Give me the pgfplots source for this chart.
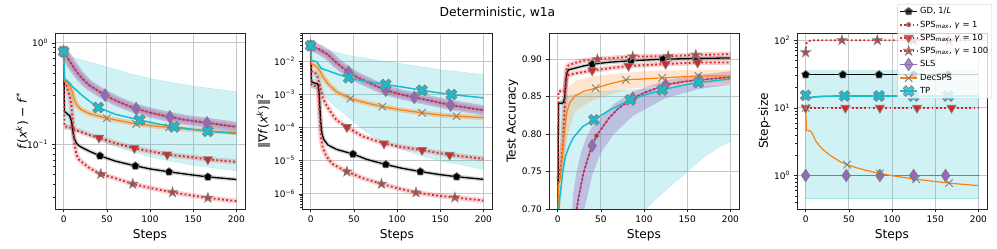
\documentclass[border=0pt]{standalone}
\usepackage{fontspec}
\setmainfont{DejaVu Sans}
\usepackage{pgfplots}
\pgfplotsset{compat=1.18}
\usepackage{pgfplotstable}
\usetikzlibrary{plotmarks}

\definecolor{tabred}{HTML}{D62728}
\definecolor{tabpurple}{HTML}{9467BD}
\definecolor{taborange}{HTML}{FF7F0E}
\definecolor{tabcyan}{HTML}{17BECF}
\definecolor{starred}{HTML}{C0403A}
\definecolor{mkedge}{HTML}{7F7F7F}

\pgfdeclareplotmark{plusfill}{%
  \pgfpathmoveto{\pgfqpoint{0.32\pgfplotmarksize}{\pgfplotmarksize}}%
  \pgfpathlineto{\pgfqpoint{-0.32\pgfplotmarksize}{\pgfplotmarksize}}%
  \pgfpathlineto{\pgfqpoint{-0.32\pgfplotmarksize}{0.32\pgfplotmarksize}}%
  \pgfpathlineto{\pgfqpoint{-\pgfplotmarksize}{0.32\pgfplotmarksize}}%
  \pgfpathlineto{\pgfqpoint{-\pgfplotmarksize}{-0.32\pgfplotmarksize}}%
  \pgfpathlineto{\pgfqpoint{-0.32\pgfplotmarksize}{-0.32\pgfplotmarksize}}%
  \pgfpathlineto{\pgfqpoint{-0.32\pgfplotmarksize}{-\pgfplotmarksize}}%
  \pgfpathlineto{\pgfqpoint{0.32\pgfplotmarksize}{-\pgfplotmarksize}}%
  \pgfpathlineto{\pgfqpoint{0.32\pgfplotmarksize}{-0.32\pgfplotmarksize}}%
  \pgfpathlineto{\pgfqpoint{\pgfplotmarksize}{-0.32\pgfplotmarksize}}%
  \pgfpathlineto{\pgfqpoint{\pgfplotmarksize}{0.32\pgfplotmarksize}}%
  \pgfpathlineto{\pgfqpoint{0.32\pgfplotmarksize}{0.32\pgfplotmarksize}}%
  \pgfpathclose
  \pgfusepathqfillstroke
}
\pgfdeclareplotmark{star5}{%
  \pgfpathmoveto{\pgfqpoint{0pt}{\pgfplotmarksize}}%
  \pgfpathlineto{\pgfqpoint{-0.2245\pgfplotmarksize}{0.309\pgfplotmarksize}}%
  \pgfpathlineto{\pgfqpoint{-0.9511\pgfplotmarksize}{0.309\pgfplotmarksize}}%
  \pgfpathlineto{\pgfqpoint{-0.3633\pgfplotmarksize}{-0.118\pgfplotmarksize}}%
  \pgfpathlineto{\pgfqpoint{-0.5878\pgfplotmarksize}{-0.809\pgfplotmarksize}}%
  \pgfpathlineto{\pgfqpoint{0pt}{-0.382\pgfplotmarksize}}%
  \pgfpathlineto{\pgfqpoint{0.5878\pgfplotmarksize}{-0.809\pgfplotmarksize}}%
  \pgfpathlineto{\pgfqpoint{0.3633\pgfplotmarksize}{-0.118\pgfplotmarksize}}%
  \pgfpathlineto{\pgfqpoint{0.9511\pgfplotmarksize}{0.309\pgfplotmarksize}}%
  \pgfpathlineto{\pgfqpoint{0.2245\pgfplotmarksize}{0.309\pgfplotmarksize}}%
  \pgfpathclose
  \pgfusepathqfillstroke
}
\pgfdeclareplotmark{thindiamond}{%
  \pgfpathmoveto{\pgfqpoint{0pt}{\pgfplotmarksize}}%
  \pgfpathlineto{\pgfqpoint{0.68\pgfplotmarksize}{0pt}}%
  \pgfpathlineto{\pgfqpoint{0pt}{-\pgfplotmarksize}}%
  \pgfpathlineto{\pgfqpoint{-0.68\pgfplotmarksize}{0pt}}%
  \pgfpathclose
  \pgfusepathqfillstroke
}

\pgfplotsset{
  base/.style={
    scale only axis, width=190pt, height=176pt, anchor=south west,
    xmin=-10, xmax=210,
    xtick={0,50,100,150,200}, xticklabels={0,50,100,150,200},
    tick align=outside, tick pos=left,
    major tick length=3.5pt, minor tick length=2pt,
    grid=major, major grid style={black!22, line width=0.8pt},
    axis line style={black!85, line width=0.6pt},
    tick style={black!85, line width=0.6pt},
    tick label style={font=\fontsize{9}{10}\selectfont},
    label style={font=\fontsize{12.2}{13}\selectfont},
    xlabel={Steps}, ylabel shift=-3pt,
  },
  lGD/.style={black, line width=1.3pt},
  lS/.style={tabred, line width=1.8pt, dash pattern=on 1.8pt off 2.4pt},
  lSLS/.style={tabpurple, line width=1.3pt},
  lDEC/.style={taborange, line width=1.2pt},
  lTP/.style={tabcyan, line width=1.5pt},
  bGD/.style={gray, opacity=0.35, line width=4pt, line join=round, forget plot},
  bS/.style={tabred, opacity=0.22, line width=5pt, line join=round, forget plot},
  bSLS/.style={tabpurple, opacity=0.4, line width=10pt, line join=round, forget plot},
  bDEC/.style={taborange, opacity=0.3, line width=5pt, line join=round, forget plot},
  mGD/.style={only marks, mark=pentagon*, mark size=4.1pt, mark options={solid, fill=black, draw=mkedge, line width=0.7pt}},
  mSa/.style={only marks, mark=*, mark size=2.2pt, mark options={solid, fill=tabred, draw=mkedge, line width=0.6pt}},
  mSb/.style={only marks, mark=triangle*, mark size=5.2pt, mark options={solid, rotate=180, fill=tabred, draw=mkedge, line width=0.7pt}},
  mSc/.style={only marks, mark=star5, mark size=5.2pt, mark options={solid, fill=starred, draw=mkedge, line width=0.7pt}},
  mSLS/.style={only marks, mark=thindiamond, mark size=6.3pt, mark options={solid, fill=tabpurple, draw=mkedge, line width=0.7pt}},
  mDEC/.style={only marks, mark=x, mark size=5.3pt, mark options={solid, draw=mkedge, line width=0.9pt}},
  mTP/.style={only marks, mark=plusfill, mark size=5.8pt, mark options={solid, rotate=45, fill=tabcyan, draw=mkedge, line width=0.7pt}},
}

% ---------------- panel A: f(x^k)-f* ----------------
\pgfplotstableread{
x y
0 0.82
1 0.21
4 0.2
7 0.19
9 0.17
10 0.15
11 0.128
12 0.116
13 0.11
15 0.102
18 0.096
23 0.091
30 0.085
42 0.0767
60 0.068
83 0.061
100 0.057
122 0.0533
150 0.0495
167 0.0475
200 0.0448
}\AGD
\pgfplotstableread{
x y
0 0.82
1 0.15
5 0.148
9 0.145
12 0.14
20 0.132
30 0.123
40 0.116
60 0.102
83 0.0906
100 0.085
120 0.079
150 0.074
167 0.0707
200 0.0669
}\ASb
\pgfplotstableread{
x y
0 0.82
1 0.43
4 0.36
7 0.3
9 0.24
10 0.19
11 0.15
12 0.115
13 0.095
15 0.078
18 0.07
23 0.0645
30 0.058
43 0.0507
60 0.046
80 0.0405
100 0.037
127 0.0333
150 0.031
167 0.0295
200 0.0274
}\ASc
\pgfplotstableread{
x y
0 0.82
5 0.7
10 0.6
15 0.52
20 0.46
25 0.415
30 0.38
40 0.335
48 0.305
60 0.27
70 0.248
83 0.225
100 0.205
122 0.186
140 0.174
167 0.162
200 0.148
}\ASLS
\pgfplotstableread{
x y
0 0.82
1 0.42
4 0.41
7 0.38
10 0.33
12 0.28
15 0.245
20 0.22
30 0.2
48 0.182
65 0.17
85 0.158
105 0.151
125 0.145
150 0.139
167 0.135
200 0.13
}\ADEC
\pgfplotstableread{
x y
0 0.82
1 0.435
4 0.42
7 0.4
10 0.37
15 0.34
20 0.31
30 0.265
41 0.228
60 0.197
88 0.173
110 0.158
128 0.148
150 0.14
167 0.134
200 0.127
}\ATP

% ---------------- panel B: grad norm ----------------
\pgfplotstableread{
x y
0 0.0297
1 0.0024
5 0.0022
8 0.0021
9 0.0018
10 0.0009
11 0.0003
12 0.00012
13 7e-5
15 4.5e-5
20 3e-5
30 2.2e-5
49 1.6e-5
65 1.1e-5
87 7.7e-6
105 6e-6
127 4.7e-6
150 3.8e-6
169 3.3e-6
200 2.75e-6
}\BGD
\pgfplotstableread{
x y
0 0.0297
1 0.005
5 0.0046
8 0.0035
10 0.0022
12 0.0013
14 0.0008
17 0.00055
20 0.0004
25 0.00025
30 0.00017
42 0.000103
60 5.5e-5
85 3.3e-5
105 2.6e-5
129 2.1e-5
161 1.5e-5
200 1.15e-5
}\BSb
\pgfplotstableread{
x y
0 0.0297
1 0.0019
5 0.0018
8 0.0017
9 0.0012
10 0.0004
11 0.00012
12 5e-5
14 2.5e-5
18 1.4e-5
25 8e-6
42 4.7e-6
60 3e-6
82 2e-6
100 1.5e-6
122 1.1e-6
145 9e-7
167 7.8e-7
200 6.3e-7
}\BSc
\pgfplotstableread{
x y
0 0.0297
5 0.026
10 0.023
15 0.019
20 0.016
25 0.012
30 0.009
40 0.0056
44 0.0047
55 0.0032
70 0.0021
87 0.00134
105 0.001
120 0.00082
145 0.0006
162 0.00048
200 0.000334
}\BSLS
\pgfplotstableread{
x y
0 0.0297
1 0.0082
5 0.0075
8 0.0065
11 0.005
14 0.0035
18 0.0025
21 0.002
30 0.0012
46 0.00075
65 0.00055
83 0.00043
105 0.00034
129 0.00028
150 0.00024
169 0.00022
200 0.0002
}\BDEC
\pgfplotstableread{
x y
0 0.0297
1 0.0105
7 0.0098
10 0.0075
12 0.0062
16 0.0056
20 0.0052
30 0.0042
44 0.0032
60 0.0026
87 0.002
105 0.0017
129 0.00134
145 0.00115
163 0.001
200 0.00079
}\BTP

% ---------------- panel C: test accuracy ----------------
\pgfplotstableread{
x y
0 0.6
1 0.8413
5 0.8413
7 0.843
8 0.848
9 0.862
10 0.876
11 0.883
13 0.886
20 0.888
30 0.891
40 0.8933
60 0.896
85 0.898
122 0.9
160 0.901
200 0.9017
}\CGD
\pgfplotstableread{
x y
0 0.6
1 0.857
8 0.858
9 0.862
10 0.872
11 0.877
13 0.879
20 0.881
40 0.8849
60 0.888
82 0.891
125 0.8937
162 0.8955
200 0.8957
}\CSb
\pgfplotstableread{
x y
0 0.6
1 0.74
4 0.76
6 0.785
8 0.83
9 0.865
10 0.884
11 0.89
13 0.892
20 0.895
30 0.898
46 0.9
87 0.9035
128 0.904
160 0.9057
200 0.9067
}\CSc
\pgfplotstableread{
x y
0 0.5
10 0.55
17 0.64
22 0.7
25 0.72
30 0.748
35 0.768
40 0.7844
45 0.7977
50 0.806
60 0.822
70 0.834
87 0.848
100 0.855
125 0.8657
145 0.87
164 0.8724
200 0.876
}\CSLS
\pgfplotstableread{
x y
0 0.6
1 0.732
3 0.74
5 0.765
7 0.795
9 0.815
11 0.83
14 0.842
20 0.851
30 0.857
44 0.8613
60 0.867
79 0.8724
121 0.875
163 0.8777
200 0.8777
}\CDEC
\pgfplotstableread{
x y
0 0.6
1 0.69
2 0.71
4 0.73
6 0.75
9 0.77
13 0.783
18 0.795
29 0.81
42 0.819
60 0.832
84 0.8457
100 0.852
121 0.859
140 0.864
163 0.8688
200 0.8737
}\CTP

% ---------------- panel D: step size ----------------
\pgfplotstableread{
x y
0 66
1 90
3 97
6 99
10 100
200 100
}\DSc
\pgfplotstableread{
x y
0 10
1 4.62
4 4.6
6 4.5
8 4.1
10 3.6
12 3.2
15 2.85
20 2.42
25 2.15
30 1.93
40 1.6
48 1.45
60 1.29
75 1.15
87 1.07
100 0.995
115 0.93
128 0.88
150 0.815
166 0.775
180 0.745
200 0.71
}\DDEC
\pgfplotstableread{
x y
0 15.3
1 14
5 14.2
10 14.5
20 14.8
40 15
200 15
}\DTP

\begin{document}
\begin{tikzpicture}[x=1pt,y=1pt]
\useasboundingbox (0,0) rectangle (997,249);
\node[anchor=base, font=\fontsize{12.3}{14}\selectfont] at (497.5,232.5) {Deterministic, w1a};

% ===== Panel 1 =====
\begin{axis}[base, at={(55pt,40pt)}, ymode=log, ymin=0.0229, ymax=1.25,
  ytick={0.1,1}, yticklabels={10\textsuperscript{−1},10\textsuperscript{0}},
  minor ytick={0.03,0.04,0.05,0.06,0.07,0.08,0.09,0.2,0.3,0.4,0.5,0.6,0.7,0.8,0.9},
  ylabel shift=-8pt,
  ylabel={\textit{f}(\textit{x}\textsuperscript{\textit{k}}) − \textit{f}\textsuperscript{*}}]
\addplot[fill=tabcyan, fill opacity=0.2, draw=tabcyan, draw opacity=0.25, forget plot] coordinates {
(0,0.82)(1,0.76)(10,0.72)(25,0.66)(50,0.58)(75,0.5)(100,0.445)(125,0.405)(150,0.374)(175,0.35)(200,0.33)
(200,0.0545)(175,0.058)(150,0.062)(125,0.068)(100,0.075)(75,0.086)(50,0.101)(30,0.12)(15,0.135)(5,0.14)(1,0.14)} -- cycle;
\addplot[bSLS] table {\ASLS};
\addplot[bS, line width=6pt, opacity=0.18] table {\ASLS};
\addplot[bDEC, skip coords between index={0}{1}] table {\ADEC};
\addplot[bS, skip coords between index={0}{1}] table {\ASb};
\addplot[bS, skip coords between index={0}{1}] table {\ASc};
\addplot[bGD, skip coords between index={0}{1}] table {\AGD};
\addplot[lGD] table {\AGD};
\addplot[mGD] coordinates {(0,0.82)(42,0.0767)(83,0.061)(122,0.0533)(167,0.0475)};
\addplot[lS] table {\ASb};
\addplot[mSb] coordinates {(0,0.82)(41,0.1155)(82,0.0911)(120,0.079)(167,0.0707)};
\addplot[lS] table {\ASc};
\addplot[mSc] coordinates {(0,0.82)(43,0.0507)(80,0.0405)(126,0.0334)(167,0.0295)};
\addplot[lSLS] table {\ASLS};
\addplot[lS] table {\ASLS};
\addplot[mSa] coordinates {(0,0.82)(48,0.305)(84,0.224)(123,0.186)(166,0.162)};
\addplot[mSLS] coordinates {(0,0.82)(48,0.305)(84,0.224)(123,0.186)(166,0.162)};
\addplot[lDEC] table {\ADEC};
\addplot[mDEC] coordinates {(0,0.82)(50,0.18)(84,0.158)(122,0.146)(167,0.135)};
\addplot[lTP] table {\ATP};
\addplot[mTP] coordinates {(0,0.82)(40,0.23)(88,0.173)(128,0.148)(167,0.134)};
\end{axis}

% ===== Panel 2 =====
\begin{axis}[base, at={(302pt,40pt)}, ymode=log, ymin=3.5e-7, ymax=0.0716,
  ytick={1e-6,1e-5,1e-4,1e-3,1e-2},
  yticklabels={10\textsuperscript{−6},10\textsuperscript{−5},10\textsuperscript{−4},10\textsuperscript{−3},10\textsuperscript{−2}},
  minor ytick={4e-7,5e-7,6e-7,7e-7,8e-7,9e-7,2e-6,3e-6,4e-6,5e-6,6e-6,7e-6,8e-6,9e-6,2e-5,3e-5,4e-5,5e-5,6e-5,7e-5,8e-5,9e-5,2e-4,3e-4,4e-4,5e-4,6e-4,7e-4,8e-4,9e-4,2e-3,3e-3,4e-3,5e-3,6e-3,7e-3,8e-3,9e-3,2e-2,3e-2,4e-2,5e-2,6e-2,7e-2},
  ylabel={‖∇\textit{f}(\textit{x}\textsuperscript{\textit{k}})‖\textsuperscript{2}}]
\addplot[fill=tabcyan, fill opacity=0.2, draw=tabcyan, draw opacity=0.25, forget plot] coordinates {
(0,0.0297)(1,0.026)(10,0.024)(25,0.02)(45,0.015)(75,0.011)(100,0.0089)(125,0.007)(150,0.0056)(175,0.0047)(200,0.004)
(200,5.5e-6)(175,7.5e-6)(150,1e-5)(125,1.5e-5)(100,2.5e-5)(75,5e-5)(60,9e-5)(45,2e-4)(30,4e-4)(20,7e-4)(10,0.0013)(1,0.0016)} -- cycle;
\addplot[bSLS] table {\BSLS};
\addplot[bS, line width=6pt, opacity=0.18] table {\BSLS};
\addplot[bDEC, skip coords between index={0}{1}] table {\BDEC};
\addplot[bS, skip coords between index={0}{1}] table {\BSb};
\addplot[bS, skip coords between index={0}{1}] table {\BSc};
\addplot[bGD, skip coords between index={0}{1}] table {\BGD};
\addplot[lGD] table {\BGD};
\addplot[mGD] coordinates {(0,0.0297)(49,1.6e-5)(87,7.7e-6)(127,4.7e-6)(169,3.3e-6)};
\addplot[lS] table {\BSb};
\addplot[mSb] coordinates {(0,0.0297)(42,1.03e-4)(85,3.3e-5)(129,2.1e-5)(161,1.5e-5)};
\addplot[lS] table {\BSc};
\addplot[mSc] coordinates {(0,0.0297)(42,4.7e-6)(82,2e-6)(122,1.1e-6)(167,7.8e-7)};
\addplot[lSLS] table {\BSLS};
\addplot[lS] table {\BSLS};
\addplot[mSa] coordinates {(0,0.0297)(44,0.0047)(87,0.00134)(120,0.00082)(162,0.00048)};
\addplot[mSLS] coordinates {(0,0.0297)(44,0.0047)(87,0.00134)(120,0.00082)(162,0.00048)};
\addplot[lDEC] table {\BDEC};
\addplot[mDEC] coordinates {(0,0.0297)(46,0.00075)(83,0.00043)(129,0.00028)(169,0.00022)};
\addplot[lTP] table {\BTP};
\addplot[mTP] coordinates {(0,0.0297)(44,0.0032)(87,0.002)(129,0.00134)(163,0.001)};
\end{axis}

% ===== Panel 3 =====
\begin{axis}[base, at={(549pt,40pt)}, ymin=0.70, ymax=0.935,
  ytick={0.70,0.75,0.80,0.85,0.90}, yticklabels={0.70,0.75,0.80,0.85,0.90},
  ylabel={Test Accuracy}]
\addplot[fill=tabcyan, fill opacity=0.2, draw=tabcyan, draw opacity=0.25, forget plot] coordinates {
(0,0.6)(1,0.83)(3,0.845)(8,0.85)(20,0.853)(50,0.857)(100,0.86)(150,0.863)(200,0.866)
(200,0.79)(190,0.785)(170,0.77)(150,0.75)(130,0.73)(115,0.715)(102,0.7)(90,0.65)} -- cycle;
\addplot[fill=tabpurple, fill opacity=0.35, draw=none, forget plot] coordinates {
(13,0.64)(18,0.72)(22,0.75)(27,0.775)(33,0.795)(40,0.81)(50,0.822)(65,0.84)(88,0.857)(125,0.872)(163,0.879)(200,0.884)
(200,0.866)(163,0.86)(125,0.848)(88,0.825)(65,0.8)(50,0.775)(40,0.745)(35,0.72)(31,0.7)(25,0.64)} -- cycle;
\addplot[fill=taborange, fill opacity=0.2, draw=none, forget plot] coordinates {
(1,0.76)(3,0.79)(5,0.82)(8,0.845)(12,0.862)(20,0.871)(40,0.877)(80,0.882)(120,0.885)(200,0.886)
(200,0.868)(120,0.865)(80,0.86)(40,0.845)(20,0.83)(12,0.8)(8,0.765)(5,0.72)(3,0.7)(1,0.69)} -- cycle;
\addplot[bS, skip coords between index={0}{1}] table {\CSb};
\addplot[bS, skip coords between index={0}{1}] table {\CSc};
\addplot[bGD, skip coords between index={0}{1}] table {\CGD};
\addplot[lGD] table {\CGD};
\addplot[mGD] coordinates {(40,0.8933)(85,0.898)(122,0.9)(160,0.901)};
\addplot[lS] table {\CSb};
\addplot[mSb] coordinates {(40,0.8849)(82,0.891)(125,0.8937)(162,0.8955)};
\addplot[lS] table {\CSc};
\addplot[mSc] coordinates {(46,0.9)(87,0.9035)(128,0.904)(160,0.9057)};
\addplot[lSLS] table {\CSLS};
\addplot[lS] table {\CSLS};
\addplot[mSa] coordinates {(45,0.7977)(87,0.848)(125,0.8657)(164,0.8724)};
\addplot[mSLS] coordinates {(40,0.7844)(87,0.848)(125,0.8657)(164,0.8724)};
\addplot[lDEC] table {\CDEC};
\addplot[mDEC] coordinates {(44,0.8613)(79,0.8724)(121,0.875)(163,0.8777)};
\addplot[lTP] table {\CTP};
\addplot[mTP] coordinates {(42,0.819)(84,0.8457)(121,0.859)(163,0.8688)};
\end{axis}

% ===== Panel 4 =====
\begin{axis}[base, at={(797pt,40pt)}, ymode=log, ymin=0.32, ymax=128,
  ytick={1,10,100}, yticklabels={10\textsuperscript{0},10\textsuperscript{1},10\textsuperscript{2}},
  minor ytick={0.4,0.5,0.6,0.7,0.8,0.9,2,3,4,5,6,7,8,9,20,30,40,50,60,70,80,90},
  ylabel={Step-size},
  legend style={at={(1.026,1.165)}, anchor=north east, font=\fontsize{8.4}{9.6}\selectfont,
    draw=black!20, rounded corners=2pt, fill=white, fill opacity=0.8, text opacity=1, draw opacity=1,
    row sep=1.4pt, inner sep=1.5pt},
  legend cell align=left]
\addplot[fill=tabcyan, fill opacity=0.2, draw=tabcyan, draw opacity=0.25, forget plot] coordinates {
(0,35.5)(200,35.5)(200,0.457)(0,0.457)} -- cycle;
\addplot[lGD, forget plot] coordinates {(0,31)(200,31)};
\addplot[mGD, forget plot] coordinates {(0,31)(43,31)(85,31)(125,31)(165,31)};
\addplot[lS, forget plot] coordinates {(0,1)(200,1)};
\addplot[lS, forget plot] coordinates {(0,10)(200,10)};
\addplot[mSb, forget plot] coordinates {(0,10)(46,10)(86,10)(129,10)(169,10)};
\addplot[lS, forget plot] table {\DSc};
\addplot[mSc, forget plot] coordinates {(0,66)(42,100)(83,100)(125,100)(166,100)};
\addplot[lSLS, forget plot] coordinates {(0,1)(200,1)};
\addplot[mSa, forget plot] coordinates {(0,1)(47,1)(86,1)(125,1)(162,1)};
\addplot[mSLS, forget plot] coordinates {(0,1)(47,1)(86,1)(125,1)(162,1)};
\addplot[lDEC, forget plot] table {\DDEC};
\addplot[mDEC, forget plot] coordinates {(0,10)(48,1.45)(86,1.075)(128,0.88)(166,0.775)};
\addplot[lTP, line width=1.8pt, forget plot] table {\DTP};
\addplot[mTP, forget plot] coordinates {(0,15.3)(45,15)(85,15)(125,15)(165,15)};
\addlegendimage{black, line width=1.3pt, mark=pentagon*, mark size=4.1pt, mark options={solid, fill=black, draw=mkedge, line width=0.7pt}}
\addlegendentry{GD, 1/\textit{L}}
\addlegendimage{tabred, line width=1.8pt, dash pattern=on 1.8pt off 2.4pt, mark=*, mark size=2.2pt, mark options={solid, fill=tabred, draw=mkedge, line width=0.6pt}}
\addlegendentry{SPS\textsubscript{\textit{max}}, \textit{γ} = 1}
\addlegendimage{tabred, line width=1.8pt, dash pattern=on 1.8pt off 2.4pt, mark=triangle*, mark size=5.2pt, mark options={solid, rotate=180, fill=tabred, draw=mkedge, line width=0.7pt}}
\addlegendentry{SPS\textsubscript{\textit{max}}, \textit{γ} = 10}
\addlegendimage{tabred, line width=1.8pt, dash pattern=on 1.8pt off 2.4pt, mark=star5, mark size=5.2pt, mark options={solid, fill=starred, draw=mkedge, line width=0.7pt}}
\addlegendentry{SPS\textsubscript{\textit{max}}, \textit{γ} = 100}
\addlegendimage{tabpurple, line width=1.3pt, mark=thindiamond, mark size=6.3pt, mark options={solid, fill=tabpurple, draw=mkedge, line width=0.7pt}}
\addlegendentry{SLS}
\addlegendimage{taborange, line width=1.2pt, mark=x, mark size=5.3pt, mark options={solid, draw=mkedge, line width=0.9pt}}
\addlegendentry{DecSPS}
\addlegendimage{tabcyan, line width=1.8pt, mark=plusfill, mark size=5.8pt, mark options={solid, rotate=45, fill=tabcyan, draw=mkedge, line width=0.7pt}}
\addlegendentry{TP}
\end{axis}
\end{tikzpicture}
\end{document}
